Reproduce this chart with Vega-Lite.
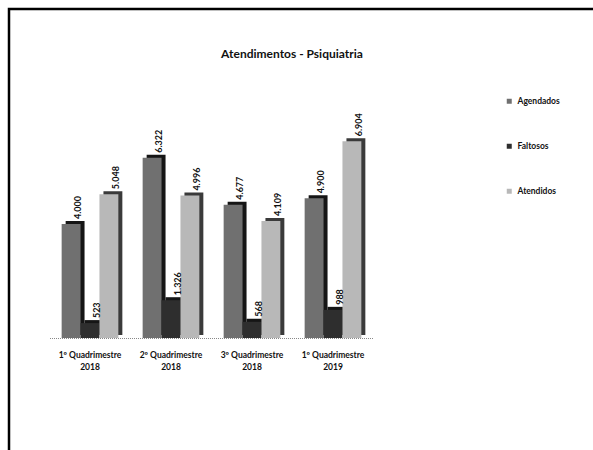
{
  "$schema": "https://vega.github.io/schema/vega-lite/v6.json",
  "autosize": "none",
  "width": 600,
  "height": 460,
  "padding": {"left": 9, "top": 9, "right": 0, "bottom": 0},
  "background": "white",
  "config": {
    "view": {"stroke": "black", "strokeWidth": 2.5},
    "font": "Lato",
    "locale": {"number": {"decimal": ",", "thousands": ".", "grouping": [3], "currency": ["R$", ""]}}
  },
  "title": {"text": "Atendimentos - Psiquiatria", "offset": -52, "dx": -17, "fontSize": 12, "fontWeight": "bold", "anchor": "middle", "color": "#111"},
  "data": {"values": [
    {"periodo": "1º Quadrimestre 2018", "serie": "Agendados", "valor": 4000},
    {"periodo": "1º Quadrimestre 2018", "serie": "Faltosos", "valor": 523},
    {"periodo": "1º Quadrimestre 2018", "serie": "Atendidos", "valor": 5048},
    {"periodo": "2º Quadrimestre 2018", "serie": "Agendados", "valor": 6322},
    {"periodo": "2º Quadrimestre 2018", "serie": "Faltosos", "valor": 1326},
    {"periodo": "2º Quadrimestre 2018", "serie": "Atendidos", "valor": 4996},
    {"periodo": "3º Quadrimestre 2018", "serie": "Agendados", "valor": 4677},
    {"periodo": "3º Quadrimestre 2018", "serie": "Faltosos", "valor": 568},
    {"periodo": "3º Quadrimestre 2018", "serie": "Atendidos", "valor": 4109},
    {"periodo": "1º Quadrimestre 2019", "serie": "Agendados", "valor": 4900},
    {"periodo": "1º Quadrimestre 2019", "serie": "Faltosos", "valor": 988},
    {"periodo": "1º Quadrimestre 2019", "serie": "Atendidos", "valor": 6904}
  ]},
  "encoding": {
    "x": {
      "field": "periodo", "type": "nominal", "sort": null,
      "scale": {"range": [40.5, 364.5], "paddingInner": 0.3, "paddingOuter": 0.15},
      "axis": {
        "title": null, "domainColor": "#888", "domainDash": [1, 1], "domainWidth": 1,
        "offset": -131,
        "ticks": false, "labelAngle": 0, "labelPadding": 12,
        "labelExpr": "[substring(datum.label, 0, 15), substring(datum.label, 16)]",
        "labelFontSize": 8.5, "labelFontWeight": "bold", "labelColor": "#111", "labelLineHeight": 12
      }
    },
    "y": {"field": "valor", "type": "quantitative", "scale": {"domain": [0, 7000], "range": [329, 129.5]}, "axis": null}
  },
  "layer": [
    {
      "mark": {"type": "bar", "yOffset": -3},
      "encoding": {
        "xOffset": {"field": "serie", "type": "nominal", "sort": ["Agendados", "Faltosos", "Atendidos"], "scale": {"paddingInner": 0, "range": [4, 60.7]}},
        "color": {"condition": {"test": "datum.serie === 'Atendidos'", "value": "#3a3a3a"}, "value": "#151515"}
      }
    },
    {
      "mark": {"type": "bar"},
      "encoding": {
        "xOffset": {"field": "serie", "type": "nominal", "sort": ["Agendados", "Faltosos", "Atendidos"], "scale": {"paddingInner": 0, "range": [0, 56.7]}},
        "color": {
          "field": "serie", "type": "nominal",
          "scale": {"domain": ["Agendados", "Faltosos", "Atendidos"], "range": ["#707070", "#2e2e2e", "#b8b8b8"]},
          "legend": {
            "title": null, "orient": "none", "legendX": 496, "legendY": 88,
            "symbolType": "square", "symbolSize": 25, "symbolStrokeWidth": 0,
            "labelFontSize": 8.5, "labelFontWeight": "bold", "labelColor": "#111",
            "rowPadding": 36
          }
        }
      }
    },
    {
      "mark": {"type": "text", "angle": 270, "align": "left", "baseline": "middle", "dx": 5, "dy": 7, "fontSize": 9, "fontWeight": "bold", "color": "#111"},
      "encoding": {
        "xOffset": {"field": "serie", "type": "nominal", "sort": ["Agendados", "Faltosos", "Atendidos"], "scale": {"paddingInner": 0, "range": [0, 56.7]}},
        "text": {"field": "valor", "type": "quantitative", "format": ",d"}
      }
    }
  ],
  "resolve": {"scale": {"xOffset": "independent"}}
}
